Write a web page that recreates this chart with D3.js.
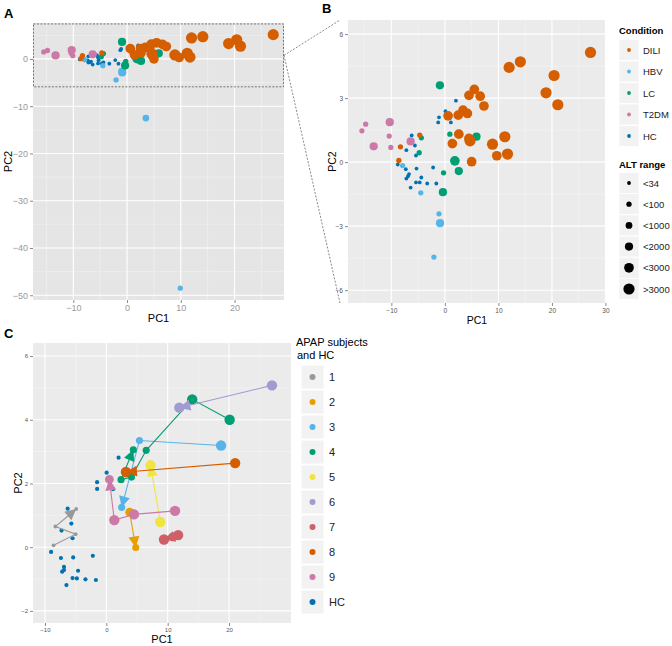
<!DOCTYPE html>
<html>
<head>
<meta charset="utf-8">
<script src="https://cdn.jsdelivr.net/npm/d3@7"></script>
<style>
  body { margin: 0; background: #fff; }
  svg { font-family: "Liberation Sans", Arial, sans-serif; }
</style>
</head>
<body>
<div class="fig"></div>
<script>
// ---- data: panels A and B  [PC1, PC2, ALT class] ----
var conditions = ["DILI", "HBV", "LC", "T2DM", "HC"];
var conditionColors = ["#D55E00", "#56B4E9", "#009E73", "#CC79A7", "#0072B2"];
var altLabels = ["<34", "<100", "<1000", "<2000", "<3000", ">3000"];

var dili = [
	[-8.3, 0.72, 1], [-8.6, 0.08, 1], [-4.7, 1.27, 1],
	[0.6, 2.17, 4], [2.5, 2.2, 4], [3.4, 2.44, 4], [4.2, 2.28, 4], [4.5, 3.13, 4],
	[5.5, 3.41, 4], [6.6, 3.09, 4], [7.3, 2.63, 4], [2.6, 1.31, 4], [1.4, 0.87, 4],
	[4.5, 1.11, 4], [4.7, 1.0, 5], [5.0, 0.02, 4], [8.9, 0.84, 5], [11.2, 1.19, 5],
	[9.7, 0.3, 4], [11.7, 0.38, 5], [12.0, 4.44, 5], [14.1, 4.7, 5], [20.4, 4.06, 5],
	[18.9, 3.25, 5], [21.1, 2.69, 5], [27.2, 5.14, 5]
];
var hbv = [
	[-7.9, -0.16, 1], [-4.5, -1.44, 1], [-1.1, -2.42, 1], [-0.9, -2.86, 3],
	[-2.05, -4.45, 1], [3.5, -12.5, 2], [9.9, -48.5, 1]
];
var lc = [
	[-0.93, 3.6, 3], [1.87, 0.06, 4], [2.6, -0.42, 3], [-0.37, -1.41, 3], [-0.25, -0.5, 1],
	[-4.8, 0.44, 1], [-4.4, 1.14, 1], [0.93, 1.31, 1], [5.9, 1.19, 3]
];
var t2dm = [
	[-14.8, 1.78, 1], [-15.5, 1.47, 1], [-10.3, 1.87, 3], [-10.4, 1.22, 1],
	[-13.3, 0.74, 3], [-10.1, 0.69, 1], [-6.4, 0.97, 3]
];
var hc = [
	[-6.2, 1.25, 0], [-5.6, 0.78, 0], [-7.2, 0.56, 0], [-5.4, 0.31, 0], [-8.8, -0.11, 0],
	[-7.3, -0.33, 0], [-6.7, -0.56, 0], [-6.9, -0.66, 0], [-7.2, -0.77, 0], [-5.3, -0.3, 0],
	[-4.4, -0.72, 0], [-2.2, -0.25, 0], [-6.4, -1.19, 0], [-5.4, -0.95, 0], [-4.7, -0.95, 0],
	[-3.3, -1.0, 0], [-1.6, -1.0, 0], [-1.25, 1.86, 0], [-1.1, 2.1, 0], [0.12, 2.39, 0],
	[2.06, 2.88, 0], [1.12, 1.86, 0]
];
var zoomBox = [-5.9, 7.4];   // PC2 range of the box in A

// ---- data: panel C ----
var subjects = ["1", "2", "3", "4", "5", "6", "7", "8", "9", "HC"];
var subjectColors = ["#999999", "#E69F00", "#56B4E9", "#009E73", "#F0E442",
	"#A09BD0", "#CD6068", "#D55E00", "#CC79A7", "#0072B2"];
var apap1 = [[-8.6, 0.06, 0], [-5.0, 0.41, 0], [-8.3, 0.65, 0], [-4.9, 1.2, 0]];
var apap2 = [[3.8, 1.1, 3], [4.8, -0.01, 2]];
var apap3 = [[18.7, 3.19, 4], [5.4, 3.35, 2], [2.5, 1.25, 2]];
var apap4 = [[20.1, 4.0, 4], [14.0, 4.64, 4], [6.5, 3.04, 2], [4.1, 2.2, 2], [2.4, 2.12, 2], [4.4, 3.06, 2]];
var apap5 = [[8.8, 0.79, 4], [7.2, 2.57, 4]];
var apap6 = [[27.0, 5.08, 4], [11.9, 4.38, 4]];
var apap7 = [[11.7, 0.38, 4], [10.8, 0.32, 3], [9.4, 0.24, 4]];
var apap8 = [[21.0, 2.64, 4], [3.2, 2.36, 4]];
var apap9 = [[11.2, 1.14, 4], [4.5, 1.03, 4], [1.3, 0.85, 4], [0.5, 2.13, 3]];
var hcC = [
	[-9.0, -0.15], [-7.4, -0.34], [-6.9, -0.62], [-7.2, -0.77], [-5.4, -0.32], [-4.6, -0.74],
	[-5.5, -0.97], [-4.8, -0.98], [-3.4, -1.01], [-1.7, -1.03], [-2.2, -0.27], [-6.5, -1.19],
	[-7.3, 0.52], [-5.7, 0.74], [-5.5, 0.28], [-6.3, 1.21], [-1.5, 2.04], [-1.5, 1.83],
	[0.05, 2.34], [1.1, 1.82], [2.0, 2.81], [-6.9, -0.72]
];

var svg = d3.select(".fig").append("svg").attr("width", 672).attr("height", 646);

var radius = d3.scaleLinear().domain([0, 5]).range([1.9, 5.6]);
var groupsAB = [dili, hbv, lc, t2dm, hc];

// draws background, grid and axes for a ggplot style panel
function panel(opt) {
	var g = svg.append("g");
	var x = d3.scaleLinear().domain(opt.xdom).range([opt.x0, opt.x1]);
	var y = d3.scaleLinear().domain(opt.ydom).range([opt.y1, opt.y0]);
	g.append("rect").attr("x", opt.x0).attr("y", opt.y0)
		.attr("width", opt.x1 - opt.x0).attr("height", opt.y1 - opt.y0)
		.attr("fill", opt.bg);
	opt.xminor.forEach(function (v) {
		g.append("line").attr("x1", x(v)).attr("x2", x(v)).attr("y1", opt.y0).attr("y2", opt.y1)
			.attr("stroke", opt.minor).attr("stroke-width", 0.6);
	});
	opt.yminor.forEach(function (v) {
		g.append("line").attr("y1", y(v)).attr("y2", y(v)).attr("x1", opt.x0).attr("x2", opt.x1)
			.attr("stroke", opt.minor).attr("stroke-width", 0.6);
	});
	opt.xticks.forEach(function (v) {
		g.append("line").attr("x1", x(v)).attr("x2", x(v)).attr("y1", opt.y0).attr("y2", opt.y1)
			.attr("stroke", "#fff").attr("stroke-width", 1.1);
	});
	opt.yticks.forEach(function (v) {
		g.append("line").attr("y1", y(v)).attr("y2", y(v)).attr("x1", opt.x0).attr("x2", opt.x1)
			.attr("stroke", "#fff").attr("stroke-width", 1.1);
	});

	var xa = g.append("g").attr("transform", "translate(0," + opt.y1 + ")")
		.call(d3.axisBottom(x).tickValues(opt.xticks).tickSize(3).tickPadding(2).tickFormat(d3.format("d")));
	var ya = g.append("g").attr("transform", "translate(" + opt.x0 + ",0)")
		.call(d3.axisLeft(y).tickValues(opt.yticks).tickSize(3).tickPadding(2).tickFormat(d3.format("d")));
	[xa, ya].forEach(function (a) {
		a.select(".domain").remove();
		a.selectAll("line").attr("stroke", "#8a8a8a");
		a.selectAll("text").attr("fill", opt.tickColor).style("font-size", opt.tickSize + "px")
			.style("font-family", "Liberation Sans, Arial, sans-serif");
	});

	g.append("text").attr("x", (opt.x0 + opt.x1) / 2).attr("y", opt.xtitleY)
		.attr("text-anchor", "middle").style("font-size", opt.titleSize + "px").text("PC1");
	g.append("text").attr("transform", "translate(" + opt.ytitleX + "," + ((opt.y0 + opt.y1) / 2) + ") rotate(-90)")
		.attr("text-anchor", "middle").style("font-size", opt.titleSize + "px").text("PC2");

	// plotting layer clipped to the panel
	var id = "clip" + Math.round(opt.x0) + "_" + Math.round(opt.y0);
	svg.append("clipPath").attr("id", id).append("rect")
		.attr("x", opt.x0).attr("y", opt.y0).attr("width", opt.x1 - opt.x0).attr("height", opt.y1 - opt.y0);
	var plot = svg.append("g").attr("clip-path", "url(#" + id + ")");
	return {x: x, y: y, plot: plot};
}

function drawConditionPoints(p) {
	// HC first, orange last so big points sit on top
	[4, 3, 1, 2, 0].forEach(function (k) {
		p.plot.selectAll(null).data(groupsAB[k]).enter().append("circle")
			.attr("cx", function (d) { return p.x(d[0]); })
			.attr("cy", function (d) { return p.y(d[1]); })
			.attr("r", function (d) { return radius(d[2]); })
			.attr("fill", conditionColors[k]);
	});
}

// ---- panel A ----
var A = panel({
	x0: 33, x1: 284, y0: 23, y1: 300,
	xdom: [-17.5, 29.2], ydom: [-51, 7.6],
	xticks: [-10, 0, 10, 20], yticks: [0, -10, -20, -30, -40, -50],
	xminor: [-15, -5, 5, 15, 25], yminor: [5, -5, -15, -25, -35, -45],
	bg: "#E5E5E5", minor: "#F2F2F2", tickColor: "#999", tickSize: 9,
	titleSize: 11, xtitleY: 322, ytitleX: 12
});
drawConditionPoints(A);
svg.append("rect").attr("x", 33.5).attr("y", A.y(zoomBox[1]))
	.attr("width", 250).attr("height", A.y(zoomBox[0]) - A.y(zoomBox[1]))
	.attr("fill", "none").attr("stroke", "#555").attr("stroke-width", 0.8).attr("stroke-dasharray", "2,1.5");

// ---- panel B ----
var B = panel({
	x0: 348, x1: 606, y0: 20, y1: 303,
	xdom: [-18.1, 30.1], ydom: [-6.6, 6.66],
	xticks: [-10, 0, 10, 20, 30], yticks: [-6, -3, 0, 3, 6],
	xminor: [-15, -5, 5, 15, 25], yminor: [-4.5, -1.5, 1.5, 4.5],
	bg: "#EBEBEB", minor: "#F5F5F5", tickColor: "#555", tickSize: 6.5,
	titleSize: 10.5, xtitleY: 324, ytitleX: 336
});
drawConditionPoints(B);

// connectors from the box in A to panel B
var midY = (A.y(zoomBox[0]) + A.y(zoomBox[1])) / 2;
[20, 303].forEach(function (yy) {
	svg.append("line").attr("x1", 284).attr("y1", midY).attr("x2", 340).attr("y2", yy)
		.attr("stroke", "#555").attr("stroke-width", 0.7).attr("stroke-dasharray", "2,1.5");
});

// legend B
var legB = svg.append("g").attr("transform", "translate(619,0)");
legB.append("text").attr("x", 0).attr("y", 34).style("font-size", "9.5px").style("font-weight", "bold").text("Condition");
conditions.forEach(function (c, i) {
	var cy = 50 + i * 21.5;
	legB.append("rect").attr("x", 0).attr("y", cy - 10.5).attr("width", 20).attr("height", 21)
		.attr("fill", "#F2F2F2").attr("stroke", "#fff").attr("stroke-width", 0.8);
	legB.append("circle").attr("cx", 10).attr("cy", cy).attr("r", 1.9).attr("fill", conditionColors[i]);
	legB.append("text").attr("x", 24).attr("y", cy + 3.5).style("font-size", "9.5px").attr("fill", "#222").text(c);
});
legB.append("text").attr("x", 0).attr("y", 168).style("font-size", "9.5px").style("font-weight", "bold").text("ALT range");
altLabels.forEach(function (c, i) {
	var cy = 183 + i * 21.2;
	legB.append("rect").attr("x", 0).attr("y", cy - 10.5).attr("width", 20).attr("height", 21)
		.attr("fill", "#F2F2F2").attr("stroke", "#fff").attr("stroke-width", 0.8);
	legB.append("circle").attr("cx", 10).attr("cy", cy).attr("r", radius(i)).attr("fill", "#000");
	legB.append("text").attr("x", 24).attr("y", cy + 3.5).style("font-size", "9.5px").attr("fill", "#222").text(c);
});

// ---- panel C ----
var C = panel({
	x0: 33, x1: 291, y0: 343, y1: 623,
	xdom: [-11.95, 30.1], ydom: [-2.38, 6.41],
	xticks: [-10, 0, 10, 20], yticks: [-2, 0, 2, 4, 6],
	xminor: [-5, 5, 15, 25], yminor: [-1, 1, 3, 5],
	bg: "#EBEBEB", minor: "#F5F5F5", tickColor: "#555", tickSize: 6,
	titleSize: 11, xtitleY: 643, ytitleX: 22
});
var radiusC = d3.scaleLinear().domain([0, 4]).range([1.9, 5.2]);

C.plot.selectAll(null).data(hcC).enter().append("circle")
	.attr("cx", function (d) { return C.x(d[0]); })
	.attr("cy", function (d) { return C.y(d[1]); })
	.attr("r", 2.1).attr("fill", subjectColors[9]);

var apaps = [apap1, apap2, apap3, apap4, apap5, apap6, apap7, apap8, apap9];
var line = d3.line().x(function (d) { return C.x(d[0]); }).y(function (d) { return C.y(d[1]); });
apaps.forEach(function (pts, i) {
	var col = subjectColors[i];
	C.plot.append("path").attr("d", line(pts)).attr("fill", "none")
		.attr("stroke", col).attr("stroke-width", 1.1);
	// arrow head at the last time point
	var a = pts[pts.length - 2], b = pts[pts.length - 1];
	var ang = Math.atan2(C.y(b[1]) - C.y(a[1]), C.x(b[0]) - C.x(a[0])) * 180 / Math.PI;
	C.plot.append("path").attr("d", "M0,0L-11,-5.5L-11,5.5Z").attr("fill", col)
		.attr("transform", "translate(" + C.x(b[0]) + "," + C.y(b[1]) + ") rotate(" + ang + ")");
	C.plot.selectAll(null).data(pts).enter().append("circle")
		.attr("cx", function (d) { return C.x(d[0]); })
		.attr("cy", function (d) { return C.y(d[1]); })
		.attr("r", function (d) { return radiusC(d[2]); })
		.attr("fill", col);
});

// legend C
var legC = svg.append("g").attr("transform", "translate(296,0)");
legC.append("text").attr("x", 0).attr("y", 346).style("font-size", "11px").text("APAP subjects");
legC.append("text").attr("x", 1).attr("y", 359).style("font-size", "11px").text("and HC");
subjects.forEach(function (s, i) {
	var cy = 377 + i * 25;
	legC.append("rect").attr("x", 5).attr("y", cy - 12).attr("width", 23).attr("height", 24)
		.attr("fill", "#F2F2F2").attr("stroke", "#fff").attr("stroke-width", 1);
	legC.append("circle").attr("cx", 16.5).attr("cy", cy).attr("r", 3).attr("fill", subjectColors[i]);
	legC.append("text").attr("x", 33).attr("y", cy + 4).style("font-size", "11px").attr("fill", "#222").text(s);
});

// panel letters
[["A", 4, 18], ["B", 322, 13], ["C", 4, 338]].forEach(function (t) {
	svg.append("text").attr("x", t[1]).attr("y", t[2]).style("font-size", "13px")
		.style("font-weight", "bold").text(t[0]);
});
</script>
</body>
</html>
